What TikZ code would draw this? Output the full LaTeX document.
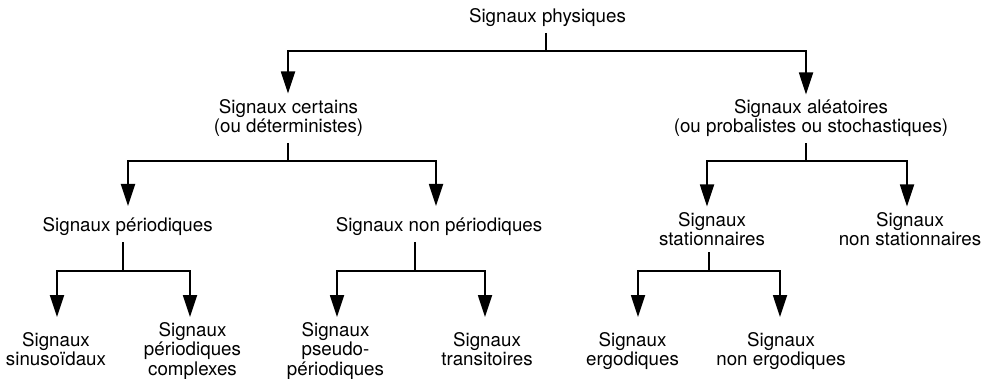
\documentclass[tikz,border=0pt]{standalone}
\usepackage{fontspec}
\setmainfont{TeX Gyre Heros}
\usetikzlibrary{arrows.meta}
\begin{document}
\begin{tikzpicture}[x=1pt,y=-1pt,
  lbl/.style={anchor=base, inner xsep=0pt, inner ysep=6pt, align=center,
              font=\fontsize{18.75}{19.4}\selectfont},
  wire/.style={line width=1.8pt},
  arr/.style={wire, -{Triangle[length=22pt,width=14pt]}}]
\useasboundingbox (0,0) rectangle (987,379);

% classification labels (placed by the baseline of their last line)
\node[lbl] (root)    at (547.5,22.7) {Signaux physiques};
\node[lbl] (cert)    at (288.5,132.7) {Signaux certains\\(ou déterministes)};
\node[lbl] (alea)    at (811,133) {Signaux aléatoires\\(ou probalistes ou stochastiques)};
\node[lbl] (per)     at (127.7,232) {Signaux périodiques};
\node[lbl] (nonper)  at (439,231.5) {Signaux non périodiques};
\node[lbl] (stat)    at (712,246) {Signaux\\stationnaires};
\node[lbl] (nonstat) at (910,246) {Signaux\\non stationnaires};
\node[lbl] (sin)     at (56,365.5) {Signaux\\sinusoïdaux};
\node[lbl] (cplx)    at (192.5,375) {Signaux\\périodiques\\complexes};
\node[lbl] (pseudo)  at (335.5,375) {Signaux\\pseudo-\\périodiques};
\node[lbl] (trans)   at (487,365.5) {Signaux\\transitoires};
\node[lbl] (ergo)    at (632.5,365.5) {Signaux\\ergodiques};
\node[lbl] (nonergo) at (781,365.5) {Signaux\\non ergodiques};

% branching points
\coordinate (j0) at (546,51);
\coordinate (j1) at (288,161);
\coordinate (j2) at (806,161);
\coordinate (j3) at (123,271);
\coordinate (j4) at (415,271);
\coordinate (j5) at (709,271);

% arrow ends above each child
\coordinate (in-cert)    at (288,93.5);
\coordinate (in-alea)    at (806,94.5);
\coordinate (in-per)     at (128,206);
\coordinate (in-nonper)  at (436,206);
\coordinate (in-stat)    at (707,206.5);
\coordinate (in-nonstat) at (907,206.5);
\coordinate (in-sin)     at (57,317);
\coordinate (in-cplx)    at (190,317);
\coordinate (in-pseudo)  at (337,317);
\coordinate (in-trans)   at (485,317);
\coordinate (in-ergo)    at (638,317);
\coordinate (in-nonergo) at (780,317);

% stems from parents
\draw[wire] (j0 |- root.south) -- (j0);
\draw[wire] (j1 |- cert.south) -- (j1);
\draw[wire] (j2 |- alea.south) -- (j2);
\draw[wire] (j3 |- per.south) -- (j3);
\draw[wire] (j4 |- nonper.south) -- (j4);
\draw[wire] (j5 |- stat.south) -- (j5);

% bars and arrows to children
\draw[arr] (j0) -| (in-cert);
\draw[arr] (j0) -| (in-alea);
\draw[arr] (j1) -| (in-per);
\draw[arr] (j1) -| (in-nonper);
\draw[arr] (j2) -| (in-stat);
\draw[arr] (j2) -| (in-nonstat);
\draw[arr] (j3) -| (in-sin);
\draw[arr] (j3) -| (in-cplx);
\draw[arr] (j4) -| (in-pseudo);
\draw[arr] (j4) -| (in-trans);
\draw[arr] (j5) -| (in-ergo);
\draw[arr] (j5) -| (in-nonergo);
\end{tikzpicture}
\end{document}
